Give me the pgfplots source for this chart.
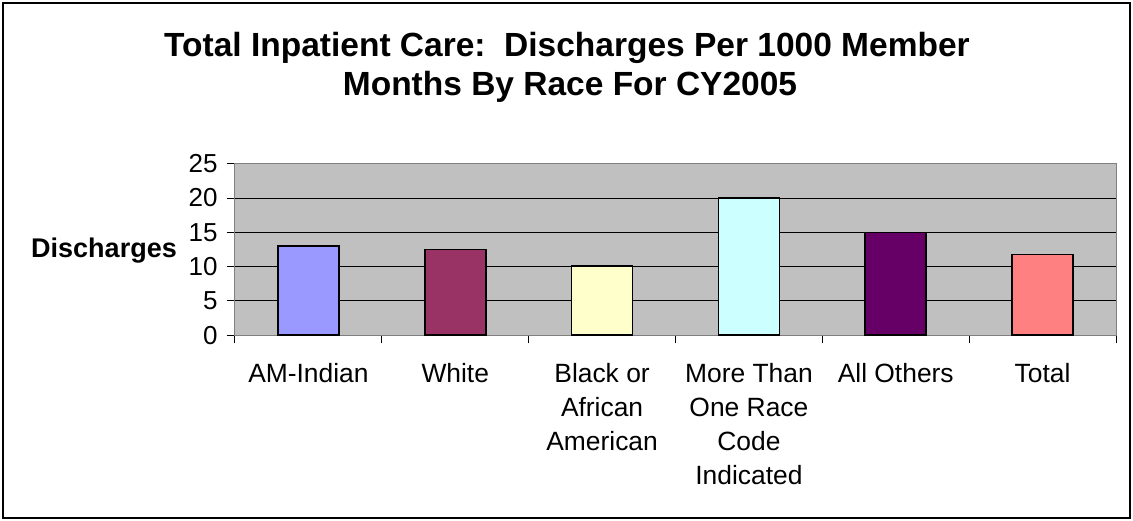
\documentclass[border=0pt]{standalone}
\usepackage{pgfplots}
\pgfplotsset{compat=1.18}
\usepackage{fontspec}
\setmainfont{Liberation Sans}
\definecolor{cA}{HTML}{9999FF}
\definecolor{cB}{HTML}{993366}
\definecolor{cC}{HTML}{FFFFCC}
\definecolor{cD}{HTML}{CCFFFF}
\definecolor{cE}{HTML}{660066}
\definecolor{cF}{HTML}{FF8080}
\definecolor{plotbg}{HTML}{C0C0C0}
\definecolor{axgray}{HTML}{808080}
\begin{document}
\begin{tikzpicture}
\path[use as bounding box] (0pt,0pt) rectangle (1133pt,521pt);
\draw[line width=2pt] (3pt,3pt) rectangle (1130pt,518pt);
\node[anchor=base, font=\fontsize{33.5}{33.5}\selectfont\bfseries, inner sep=0pt] at (567pt,464pt) {Total Inpatient Care:\ \ Discharges Per 1000 Member};
\node[anchor=base, font=\fontsize{33.5}{33.5}\selectfont\bfseries, inner sep=0pt] at (570pt,425pt) {Months By Race For CY2005};
\begin{axis}[
  at={(235pt,185.7pt)}, anchor=south west,
  scale only axis, width=881pt, height=171.6pt,
  xmin=-0.5, xmax=5.5, ymin=0, ymax=25,
  ytick={0,5,...,25},
  xtick={-0.5,0.5,1.5,2.5,3.5,4.5,5.5},
  xticklabels={AM-Indian,White,Black or\\African\\American,More Than\\One Race\\Code\\Indicated,All Others,Total},
  x tick label as interval,
  tick pos=left, tick align=outside,
  major tick length=8pt,
  tick style={black, line width=1pt},
  axis line style={axgray, line width=1pt},
  axis background/.style={fill=plotbg},
  ymajorgrids,
  major grid style={black, line width=1pt},
  /pgf/number format/assume math mode=true,
  yticklabel style={font=\fontsize{26}{26}\selectfont, xshift=-6pt},
  xticklabel style={font=\fontsize{26.4}{34}\selectfont, align=center, anchor=north, yshift=-17pt},
  clip=false,
]
\addplot[ybar, bar width=61pt, bar shift=0pt, fill=cA, draw=black, line width=1.6pt] coordinates {(0,13.0)};
\addplot[ybar, bar width=61pt, bar shift=0pt, fill=cB, draw=black, line width=1.6pt] coordinates {(1,12.5)};
\addplot[ybar, bar width=61pt, bar shift=0pt, fill=cC, draw=black, line width=1.6pt] coordinates {(2,10.1)};
\addplot[ybar, bar width=61pt, bar shift=0pt, fill=cD, draw=black, line width=1.6pt] coordinates {(3,20.0)};
\addplot[ybar, bar width=61pt, bar shift=0pt, fill=cE, draw=black, line width=1.6pt] coordinates {(4,15.0)};
\addplot[ybar, bar width=61pt, bar shift=0pt, fill=cF, draw=black, line width=1.6pt] coordinates {(5,11.8)};
\node[anchor=base east, font=\fontsize{27}{27}\selectfont\bfseries, inner sep=0pt] at (rel axis cs:0,0.5) [xshift=-58pt, yshift=-8pt] {Discharges};
\end{axis}
\end{tikzpicture}
\end{document}
